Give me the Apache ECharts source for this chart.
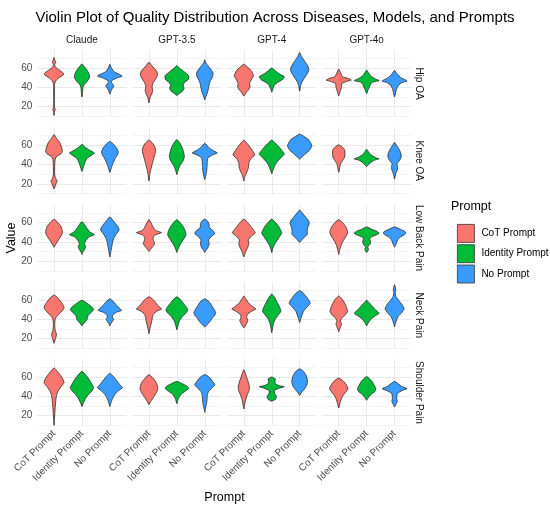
<!DOCTYPE html>
<html lang="en">
<head>
  <meta charset="UTF-8">
  <title>Violin Plot</title>
  <script src="https://cdn.jsdelivr.net/npm/echarts@6/dist/echarts.min.js"></script>
  <style>
    html, body { margin: 0; padding: 0; width: 100%; height: 100%; background: #fff; }
    #chart { width: 550px; height: 511px; }
  </style>
</head>
<body>
  <div id="chart"></div>
  <script>
    const models = ['Claude', 'GPT-3.5', 'GPT-4', 'GPT-4o'];
    const diseases = ['Hip OA', 'Knee OA', 'Low Back Pain', 'Neck Pain', 'Shoulder Pain'];
    const prompts = ['CoT Prompt', 'Identity Prompt', 'No Prompt'];
    const promptColors = ['#F8766D', '#00BA38', '#3A9BFF'];
    const yTicks = [20, 40, 60];
    const yMinorTicks = [10, 30, 50, 70];

    // violin outlines: value, relative width pairs (top -> bottom)
    // order: Claude CoT/Identity/No, GPT-3.5 ..., GPT-4 ..., GPT-4o ...
    const hipOA = [
      [71,0, 68,0.06, 66,0.14, 64,0.05, 61,0.1, 58,0.4, 55,0.72, 53,0.76, 50,0.4, 47,0.15, 44,0.05, 40,0.04, 30,0.03, 20,0.03, 17,0.1, 15,0.04, 11,0],
      [64.5,0, 62,0.15, 58,0.4, 54,0.56, 50,0.6, 46,0.4, 43,0.18, 40,0.08, 35,0.05, 30,0],
      [64,0, 60,0.12, 56,0.35, 53,0.85, 51.5,0.98, 50,0.6, 47,0.15, 45,0.12, 43,0.25, 41,0.32, 39,0.2, 36,0.08, 33,0],
      [66,0, 62,0.25, 57,0.6, 53,0.7, 49,0.55, 45,0.35, 41,0.25, 37,0.3, 34,0.25, 30,0.1, 26,0.04, 24,0],
      [62.5,0, 60,0.2, 56,0.6, 52,0.95, 48,0.9, 45,0.6, 42,0.5, 39,0.58, 36,0.45, 33,0.12, 31.5,0],
      [68.5,0, 65,0.1, 60,0.4, 55,0.66, 51,0.62, 47,0.45, 43,0.35, 39,0.3, 35,0.22, 31,0.1, 27,0],
      [64,0, 61,0.3, 57,0.6, 52,0.77, 48,0.6, 44,0.45, 41,0.5, 38,0.4, 35,0.2, 31,0],
      [60,0, 57,0.3, 54,0.6, 51,1.0, 48,0.85, 45,0.45, 42,0.2, 38,0.08, 35,0],
      [76,0, 72,0.15, 67,0.4, 62,0.65, 58,0.73, 54,0.6, 50,0.4, 46,0.2, 42,0.08, 36,0],
      [59,0, 55,0.15, 51,0.3, 49,0.8, 47.5,1.0, 46,0.6, 44,0.25, 40,0.22, 36,0.12, 31.5,0],
      [58,0, 55,0.15, 52,0.3, 49,0.65, 47,1.0, 45.5,0.5, 43,0.3, 40,0.22, 37,0.1, 33.5,0],
      [57.5,0, 54,0.2, 50,0.5, 47.5,0.9, 46.5,1.0, 45,0.6, 42,0.3, 38,0.15, 34,0.08, 30,0]
    ];
    const kneeOA = [
      [71,0, 67,0.2, 63,0.45, 58,0.6, 54,0.67, 51,0.55, 48.5,0.2, 45,0.08, 38,0.05, 30,0.05, 26,0.12, 23,0.25, 20,0.15, 15,0],
      [61,0, 58,0.25, 55,0.6, 52,1.0, 50,0.8, 47,0.45, 44,0.3, 40,0.18, 36,0.08, 33,0],
      [64,0, 61,0.3, 57,0.55, 53,0.67, 50,0.6, 47,0.45, 43,0.3, 39,0.18, 35,0.08, 32,0],
      [65.5,0, 62,0.3, 58,0.48, 54,0.53, 50,0.45, 45,0.35, 40,0.25, 35,0.15, 30,0.07, 23,0],
      [66,0, 62,0.25, 57,0.45, 52,0.55, 48,0.6, 44,0.5, 40,0.3, 36,0.15, 32,0.05, 29.5,0],
      [62,0, 58,0.3, 55,0.6, 52,1.0, 50,0.6, 47,0.25, 43,0.2, 38,0.18, 33,0.15, 28,0.07, 24.5,0],
      [65.5,0, 62,0.25, 57,0.55, 52,0.8, 50,0.87, 46,0.55, 42,0.4, 38,0.38, 34,0.3, 30,0.15, 26,0.05, 23,0],
      [65.5,0, 62,0.3, 58,0.6, 54,0.85, 51,1.0, 48,0.8, 44,0.5, 40,0.28, 36,0.15, 33,0.06, 30.5,0],
      [71.5,0, 69,0.35, 66,0.7, 63,0.85, 60,0.97, 57,0.9, 53,0.65, 50,0.35, 47,0.12, 45.5,0],
      [60.5,0, 58,0.3, 55,0.48, 51,0.5, 47,0.45, 44,0.3, 41,0.15, 37,0.08, 32,0],
      [56,0, 53,0.15, 50,0.35, 47,0.75, 46,1.0, 44.5,0.6, 42,0.3, 40,0.15, 38,0],
      [63,0, 60,0.15, 56,0.35, 52,0.5, 48,0.53, 44,0.38, 41,0.2, 37,0.25, 34,0.2, 30,0.08, 25,0]
    ];
    const lowBackPain = [
      [63.5,0, 60,0.3, 56,0.55, 52,0.65, 49,0.67, 46,0.55, 42,0.35, 38,0.15, 34.5,0],
      [61,0, 58,0.2, 54,0.4, 50,0.65, 47.5,1.0, 45,0.55, 41,0.3, 38,0.2, 35,0.3, 32,0.2, 29,0.06, 27,0],
      [66,0, 63,0.2, 59,0.45, 55,0.68, 52,0.73, 48,0.5, 44,0.32, 40,0.22, 35,0.15, 30,0.08, 24.5,0],
      [63,0, 60,0.15, 56,0.3, 52,0.5, 49.5,1.0, 47.5,0.55, 45,0.35, 42,0.35, 38,0.45, 35,0.3, 32,0.1, 30,0],
      [63,0, 60,0.25, 56,0.5, 51,0.68, 47,0.73, 43,0.55, 39,0.35, 35,0.18, 31,0.05, 29,0],
      [63.5,0, 61,0.25, 58,0.35, 55,0.35, 51,0.7, 48.5,0.8, 46,0.55, 42,0.3, 38,0.35, 34,0.25, 31,0.08, 29,0],
      [63.5,0, 60,0.3, 55,0.6, 51,0.85, 49,0.9, 46,0.6, 42,0.35, 38,0.4, 34,0.3, 30,0.15, 26,0.05, 24.5,0],
      [63.5,0, 60,0.3, 56,0.55, 52,0.72, 49,0.8, 45,0.6, 41,0.4, 37,0.2, 33,0.08, 29,0],
      [73,0, 70,0.2, 66,0.45, 62,0.7, 59,0.77, 55,0.65, 51,0.6, 48,0.62, 45,0.4, 42,0.18, 39.5,0],
      [63,0, 60,0.3, 56,0.55, 52,0.68, 49,0.7, 45,0.55, 41,0.35, 37,0.2, 33,0.1, 29,0.04, 27,0],
      [55.5,0, 53,0.4, 51,0.8, 49,1.0, 47,0.75, 45,0.35, 43,0.25, 40,0.32, 37,0.25, 35,0.08, 32,0.15, 29,0],
      [55.5,0, 53,0.45, 51,0.8, 49,0.9, 47,0.75, 45,0.45, 42,0.25, 38,0.12, 34.5,0]
    ];
    const neckPain = [
      [65,0, 62,0.3, 58,0.55, 54,0.75, 51.5,0.8, 48,0.6, 44,0.3, 41,0.12, 38,0.07, 33,0.05, 28,0.1, 24,0.2, 20,0.12, 15,0],
      [59.5,0, 57,0.35, 53,0.75, 50,0.93, 47,0.75, 44,0.5, 42,0.45, 39.5,0.4, 37,0.25, 35,0.1, 33,0],
      [61,0, 58,0.3, 54,0.55, 51,0.8, 49,0.93, 47,0.5, 44,0.22, 42,0.2, 40,0.3, 37,0.18, 35,0.06, 33,0],
      [63,0, 60,0.35, 56,0.6, 53,0.8, 50.5,1.0, 48,0.6, 45,0.35, 42,0.28, 38,0.22, 34,0.15, 30,0.07, 25,0],
      [63,0, 60,0.3, 56,0.55, 52,0.78, 49,0.87, 46,0.7, 42,0.4, 38,0.2, 34,0.1, 29,0],
      [61,0, 58,0.35, 55,0.5, 51,0.7, 47,0.87, 44,0.8, 41,0.6, 38,0.45, 35,0.25, 32,0],
      [64,0, 61,0.15, 57,0.35, 53,0.7, 50.5,0.96, 48,0.6, 45,0.3, 42,0.22, 38.5,0.32, 35,0.2, 31,0],
      [66,0, 62,0.25, 57,0.45, 52,0.65, 48,0.73, 44,0.5, 40,0.28, 36,0.15, 31,0.07, 26,0],
      [69.5,0, 66,0.35, 62,0.6, 58,0.8, 56,0.83, 52,0.55, 48,0.3, 44,0.18, 40,0.08, 36.5,0],
      [64,0, 61,0.25, 57,0.45, 52,0.62, 48,0.7, 44,0.5, 41,0.25, 38,0.14, 35,0.22, 32,0.15, 29,0.05, 27,0],
      [59.5,0, 57,0.2, 54,0.4, 51,0.6, 48,0.85, 46,1.0, 43.5,0.7, 40,0.35, 36,0.12, 33,0],
      [75.5,0, 72,0.08, 70,0.1, 67,0.05, 63,0.12, 59,0.35, 55,0.6, 51,0.76, 47,0.6, 43,0.3, 39,0.15, 35,0.06, 32,0]
    ];
    const shoulderPain = [
      [69.5,0, 66,0.25, 62,0.5, 58,0.7, 54,0.8, 50,0.55, 46,0.35, 42,0.22, 37,0.15, 30,0.1, 22,0.06, 15,0.03, 10,0],
      [66,0, 62,0.3, 58,0.55, 53,0.78, 49,0.93, 45,0.75, 41,0.45, 37,0.25, 33,0.1, 29.5,0],
      [64,0, 61,0.25, 57,0.5, 52,0.8, 49,1.0, 46,0.7, 42,0.4, 38,0.22, 34,0.1, 29.5,0],
      [62.5,0, 59,0.3, 55,0.55, 51,0.68, 47,0.7, 43,0.55, 39,0.35, 35,0.15, 31.5,0],
      [55.5,0, 53,0.45, 51,0.75, 48.5,0.95, 46,0.75, 43,0.4, 40,0.22, 37,0.1, 32.5,0],
      [62.5,0, 60,0.35, 56,0.6, 52,0.8, 49,0.6, 45,0.3, 41,0.2, 36,0.18, 31,0.12, 27,0.05, 23.5,0],
      [67.5,0, 64,0.12, 60,0.22, 55,0.35, 50,0.45, 46,0.42, 42,0.28, 37,0.15, 32,0.07, 27,0],
      [60,0, 58,0.3, 56,0.25, 53,0.3, 51,0.6, 50,1.0, 48.5,0.6, 46,0.2, 43,0.22, 40,0.38, 37,0.3, 35,0],
      [68.5,0, 66,0.3, 62,0.5, 58,0.6, 55,0.63, 51,0.55, 47,0.35, 44,0.15, 41,0],
      [59,0, 56,0.35, 52,0.6, 48,0.73, 45,0.6, 41,0.35, 37,0.2, 33,0.1, 28,0],
      [60.5,0, 58,0.25, 55,0.45, 51,0.62, 48,0.73, 45,0.65, 42,0.35, 39,0.15, 36,0],
      [55.5,0, 53,0.3, 50,0.6, 48,1.0, 46,0.6, 43,0.22, 40,0.18, 37,0.18, 35,0.22, 32,0.12, 29,0]
    ];
    const profiles = [hipOA, kneeOA, lowBackPain, neckPain, shoulderPain];

    const FONT = 'Liberation Sans, Arial, Helvetica, sans-serif';
    const panelLeft = 37.3, panelStep = 94.9, panelW = 89.3;
    const panelTop = 50, rowStep = 77.25, panelH = 67;
    const yMin = 9.4, yMax = 78.6;

    function violinRenderer(prof, color) {
      return function (params, api) {
        const x = api.value(0);
        const right = [], left = [];
        const n = prof.length / 2;
        for (let i = 0; i < n; i++) {
          const v = prof[2 * i], w = prof[2 * i + 1] * 0.45;
          right.push(api.coord([x + w, v]));
          if (i > 0 && i < n - 1) left.unshift(api.coord([x - w, v]));
        }
        return {
          type: 'polygon',
          shape: { points: right.concat(left), smooth: 0.12 },
          style: { fill: color, stroke: '#2b2b2b', lineWidth: 0.8 }
        };
      };
    }

    const grid = [], xAxis = [], yAxis = [], series = [], graphic = [];
    diseases.forEach((d, r) => {
      models.forEach((m, c) => {
        const g = r * 4 + c;
        grid.push({
          left: panelLeft + panelStep * c, top: panelTop + rowStep * r,
          width: panelW, height: panelH
        });
        xAxis.push({
          type: 'value', gridIndex: g, min: 0.4, max: 3.6,
          axisLine: { show: false },
          axisTick: { show: false, customValues: [1, 2, 3] },
          axisLabel: {
            show: r === diseases.length - 1, customValues: [1, 2, 3],
            rotate: 45, fontSize: 10, color: '#4d4d4d', fontFamily: FONT, margin: 6,
            formatter: v => prompts[Math.round(v) - 1]
          },
          splitLine: { show: true, lineStyle: { color: '#e9e9e9', width: 1 } }
        });
        yAxis.push({
          type: 'value', gridIndex: g, min: yMin, max: yMax,
          axisLine: { show: false },
          axisTick: { show: false, customValues: yTicks },
          axisLabel: {
            show: c === 0, customValues: yTicks,
            fontSize: 10, color: '#4d4d4d', fontFamily: FONT, margin: 5
          },
          splitLine: { show: true, lineStyle: { color: '#e9e9e9', width: 1 } }
        });
        yAxis.push({
          type: 'value', gridIndex: g, min: yMin, max: yMax,
          axisLine: { show: false },
          axisTick: { show: false, customValues: yMinorTicks },
          axisLabel: { show: false },
          splitLine: { show: true, lineStyle: { color: '#f0f0f0', width: 0.7 } }
        });
        prompts.forEach((p, k) => {
          series.push({
            type: 'custom', name: p,
            xAxisIndex: g, yAxisIndex: 2 * g,
            itemStyle: { color: promptColors[k] },
            renderItem: violinRenderer(profiles[r][c * 3 + k], promptColors[k]),
            data: [[k + 1, 40]],
            z: 3
          });
        });
      });
      // facet strip on the right
      graphic.push({
        type: 'text', x: 419, y: panelTop + rowStep * r + panelH / 2, rotation: -Math.PI / 2,
        style: { text: d, fontSize: 10, fill: '#1a1a1a', fontFamily: FONT, align: 'center', verticalAlign: 'middle' }
      });
    });
    models.forEach((m, c) => {
      graphic.push({
        type: 'text', x: panelLeft + panelStep * c + panelW / 2, y: 40,
        style: { text: m, fontSize: 10, fill: '#1a1a1a', fontFamily: FONT, align: 'center', verticalAlign: 'middle' }
      });
    });
    graphic.push({
      type: 'text', x: 12, y: 238, rotation: Math.PI / 2,
      style: { text: 'Value', fontSize: 12.5, fill: '#000', fontFamily: FONT, align: 'center', verticalAlign: 'middle' }
    });
    graphic.push({
      type: 'text', x: 224.5, y: 498,
      style: { text: 'Prompt', fontSize: 12.5, fill: '#000', fontFamily: FONT, align: 'center', verticalAlign: 'middle' }
    });
    graphic.push({
      type: 'text', x: 451, y: 207,
      style: { text: 'Prompt', fontSize: 12.5, fill: '#000', fontFamily: FONT, align: 'left', verticalAlign: 'middle' }
    });

    const chart = echarts.init(document.getElementById('chart'), null, { renderer: 'canvas' });
    chart.setOption({
      animation: false,
      backgroundColor: '#fff',
      title: {
        text: 'Violin Plot of Quality Distribution Across Diseases, Models, and Prompts',
        left: 'center', top: 5,
        textStyle: { fontSize: 15, fontWeight: 'normal', color: '#000', fontFamily: FONT }
      },
      legend: {
        data: prompts, orient: 'vertical', left: 452, top: 219,
        icon: 'rect', itemWidth: 17, itemHeight: 18, itemGap: 1.5,
        itemStyle: { borderColor: '#333', borderWidth: 0.8 },
        textStyle: { fontSize: 10, color: '#000', fontFamily: FONT, padding: [0, 0, 0, 2] },
        selectedMode: false
      },
      grid, xAxis, yAxis, series, graphic
    });
  </script>
</body>
</html>
